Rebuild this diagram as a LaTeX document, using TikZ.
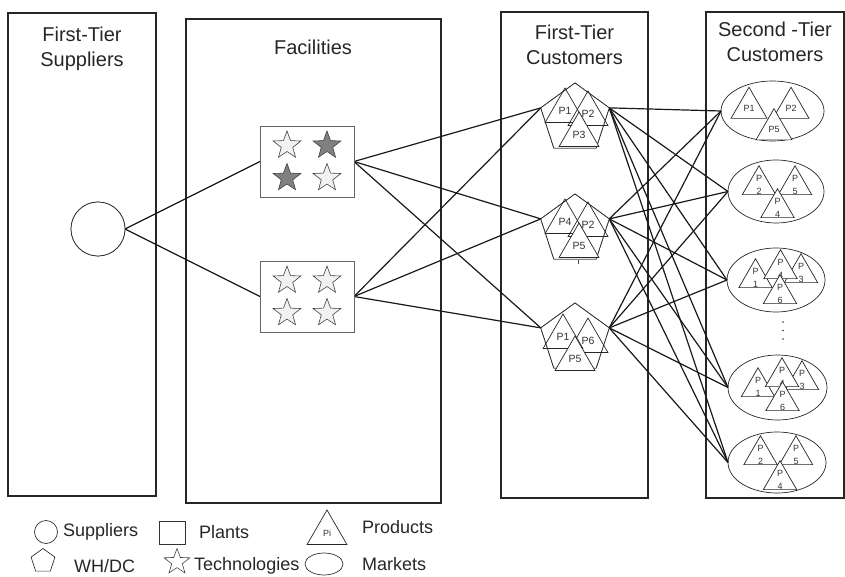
\documentclass[tikz,border=0pt]{standalone}
\usepackage{fontspec}
\setmainfont{Liberation Sans}
\usetikzlibrary{shapes.geometric}
\begin{document}
\begin{tikzpicture}[x=1pt,y=-1pt,
  panel/.style={draw=black!85, line width=1.3pt, inner sep=0, outer sep=0},
  ttl/.style={font=\fontsize{20}{25}\selectfont, align=center, text=black!85, inner sep=0},
  conn/.style={line width=1.2pt, draw=black!90},
  pentshape/.style={regular polygon, regular polygon sides=5, minimum size=72, inner sep=0, outer sep=0, draw=black!85, line width=0.7pt, fill=white},
  trio/.style={regular polygon, regular polygon sides=3, inner sep=0, outer sep=0, draw=black!85, line width=0.7pt, minimum size=#1},
  triw/.style={trio=#1, fill=white},
  labA/.style={font=\fontsize{10.5}{12}\selectfont, text=black!80, inner sep=0},
  labB/.style={font=\fontsize{9}{9.5}\selectfont, text=black!80, inner sep=0},
  labC/.style={font=\fontsize{9}{12.5}\selectfont, text=black!80, inner sep=0, align=center},
  mkt/.style={ellipse, draw=black!85, line width=0.7pt, fill=white, inner sep=0, outer sep=0},
  plantbox/.style={draw=black!60, line width=0.9pt, fill=white, inner sep=0, outer sep=0, minimum width=94, minimum height=71},
  techstar/.style={star, star points=5, star point ratio=2.4, minimum size=29, inner sep=0, draw=black!75, line width=0.6pt},
  lgd/.style={font=\fontsize{18}{20}\selectfont, text=black!85, inner sep=0, anchor=west},
]
\useasboundingbox (0,0) rectangle (845,577);

% panels
\node[panel, minimum width=148, minimum height=483] (pan1) at (82,254.5) {};
\node[panel, minimum width=255, minimum height=484] (pan2) at (313.5,261) {};
\node[panel, minimum width=147, minimum height=486] (pan3) at (574.5,255) {};
\node[panel, minimum width=138, minimum height=486] (pan4) at (775,255) {};

\node[ttl] (ttl1) at (82,49) {First-Tier\\Suppliers};
\node[ttl] (ttl2) at (313,47) {Facilities};
\node[ttl] (ttl3) at (574.5,45) {First-Tier\\Customers};
\node[ttl] (ttl4) at (775,42) {Second -Tier\\Customers};

% node positions
\coordinate (supC) at (98,229);
\coordinate (pl1C) at (307,161.5);
\coordinate (pl2C) at (307,296.5);
\coordinate (pe1C) at (575,119);
\coordinate (pe2C) at (575,230);
\coordinate (pe3C) at (575,339);

% supplier
\node[circle, draw=black!85, line width=0.7pt, minimum size=54, inner sep=0, outer sep=0, fill=white] (sup) at (supC) {};
% plants
\node[plantbox] (pl1) at (pl1C) {};
\node[plantbox] (pl2) at (pl2C) {};
% first-tier customers
\node[pentshape] (pe1) at (pe1C) {};
\node[pentshape] (pe2) at (pe2C) {};
\node[pentshape] (pe3) at (pe3C) {};
% markets
\node[mkt, minimum width=103, minimum height=60] (e1) at (772.5,111) {};
\node[mkt, minimum width=96, minimum height=63] (e2) at (776,191.5) {};
\node[mkt, minimum width=98, minimum height=64] (e3) at (776,280) {};
\node[mkt, minimum width=99, minimum height=65] (e4) at (777.5,387.5) {};
\node[mkt, minimum width=98, minimum height=61] (e5) at (777,462.5) {};

% connectors
\foreach \p in {pl1,pl2} \draw[conn] (sup.east) -- (\p.west);
\foreach \p in {pl1,pl2} \foreach \q in {pe1,pe2,pe3} \draw[conn] (\p.east) -- (\q.corner 2);
\foreach \q in {pe1,pe2,pe3} \foreach \e in {e1,e2,e3,e4,e5} \draw[conn] (\q.corner 5) -- (\e.west);

% redraw shapes on top of connector ends
\node[circle, draw=black!85, line width=0.7pt, minimum size=54, inner sep=0, fill=white] (supT) at (supC) {};
\node[plantbox] (pl1T) at (pl1C) {};
\node[plantbox] (pl2T) at (pl2C) {};
\node[pentshape] (pe1T) at (pe1C) {};
\node[pentshape] (pe2T) at (pe2C) {};
\node[pentshape] (pe3T) at (pe3C) {};

% technologies (stars)
\node[techstar, fill=black!5] (s11) at (287,145.5) {};
\node[techstar, fill=black!50] (s12) at (327,145.5) {};
\node[techstar, fill=black!50] (s13) at (287,178) {};
\node[techstar, fill=black!5] (s14) at (327,178) {};
\node[techstar, fill=black!5] (s21) at (287,280.5) {};
\node[techstar, fill=black!5] (s22) at (327,280.5) {};
\node[techstar, fill=black!5] (s23) at (287,313) {};
\node[techstar, fill=black!5] (s24) at (327,313) {};

% products in first-tier customers
\node[trio=46, label={[labA]center:P1}] (a1) at ([shift={(-10,-8)}]pe1C) {};
\node[trio=46, label={[labA]center:P2}] (a2) at ([shift={(13,-5)}]pe1C) {};
\node[triw=46, label={[labA]center:P3}] (a3) at ([shift={(4,16)}]pe1C) {};
\node[trio=46, label={[labA]center:P4}] (b1) at ([shift={(-10,-8)}]pe2C) {};
\node[trio=46, label={[labA]center:P2}] (b2) at ([shift={(13,-5)}]pe2C) {};
\node[triw=46, label={[labA]center:P5}] (b3) at ([shift={(4,16)}]pe2C) {};
\node[trio=46, label={[labA]center:P1}] (c1) at ([shift={(-12,-2)}]pe3C) {};
\node[trio=46, label={[labA]center:P6}] (c2) at ([shift={(13,2)}]pe3C) {};
\node[triw=46, label={[labA]center:P5}] (c3) at ([shift={(0,20)}]pe3C) {};
\draw[line width=0.6pt, black!70] (578,260) -- (578,264);

% products in markets
\node[trio=41.6, label={[labB]center:P1}] (m11) at (749,108) {};
\node[trio=41.6, label={[labB]center:P2}] (m12) at (791,108) {};
\node[triw=41.6, label={[labB]center:P5}] (m13) at (774,129.5) {};

\node[trio=38.5, label={[labC]center:{P\\2}}] (m21) at (759,185) {};
\node[trio=38.5, label={[labC]center:{P\\5}}] (m22) at (795,185) {};
\node[triw=38.5, label={[labC]center:{P\\4}}] (m23) at (777.5,208) {};

\node[trio=38.5, label={[labC]center:{P\\1}}] (m31) at (755.5,278) {};
\node[trio=38.5, label={[labC]center:{P\\3}}] (m33) at (801,273) {};
\node[triw=38.5, label={[labC]center:{P\\4}}] (m32) at (780.5,269) {};
\node[triw=38.5, label={[labC]center:{P\\6}}] (m34) at (780,294) {};

\node[trio=38.5, label={[labC]center:{P\\1}}] (m41) at (758,387) {};
\node[trio=38.5, label={[labC]center:{P\\3}}] (m43) at (802,380) {};
\node[triw=38.5, label={[labC]center:{P\\4}}] (m42) at (782,377) {};
\node[triw=38.5, label={[labC]center:{P\\6}}] (m44) at (782.5,401) {};

\node[trio=38.5, label={[labC]center:{P\\2}}] (m51) at (760.5,455) {};
\node[trio=38.5, label={[labC]center:{P\\5}}] (m52) at (796,455) {};
\node[triw=38.5, label={[labC]center:{P\\4}}] (m53) at (780,480) {};

% vertical ellipsis
\foreach \yy in {322,330.5,339} \fill[black!80] (783,\yy) circle (0.9);

% legend
\node[circle, draw=black!80, line width=0.7pt, minimum size=23, inner sep=0] (lg1) at (46,532) {};
\node[lgd] (lt1) at (63,532) {Suppliers};
\node[draw=black!80, line width=0.7pt, minimum width=26, minimum height=23, inner sep=0] (lg2) at (172,533) {};
\node[lgd] (lt2) at (199,532) {Plants};
\node[trio=46, label={[font=\fontsize{9}{10}\selectfont, text=black!80]center:Pi}] (lg3) at (327,533) {};
\node[lgd] (lt3) at (362,527) {Products};
\node[regular polygon, regular polygon sides=5, minimum size=25, inner sep=0, draw=black!80, line width=0.7pt] (lg4) at (43,561) {};
\node[lgd] (lt4) at (74,566) {WH/DC};
\node[techstar, minimum size=27] (lg5) at (177,562) {};
\node[lgd] (lt5) at (194,566) {Technologies};
\node[ellipse, draw=black!80, line width=0.7pt, minimum width=38, minimum height=22, inner sep=0] (lg6) at (324,564) {};
\node[lgd] (lt6) at (362,564) {Markets};
\end{tikzpicture}
\end{document}
